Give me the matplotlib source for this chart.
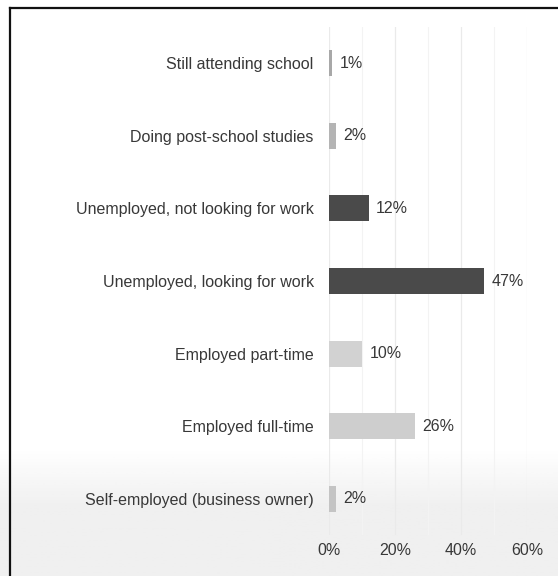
import matplotlib
matplotlib.use("Agg")
import numpy as np
import matplotlib.pyplot as plt
from matplotlib.lines import Line2D
from matplotlib.ticker import MultipleLocator, PercentFormatter

plt.rcParams['font.family'] = ['Liberation Sans', 'DejaVu Sans']

categories = [
    "Still attending school",
    "Doing post-school studies",
    "Unemployed, not looking for work",
    "Unemployed, looking for work",
    "Employed part-time",
    "Employed full-time",
    "Self-employed (business owner)",
]
values = [1, 2, 12, 47, 10, 26, 2]
colors = ["#a8a8a8", "#b4b4b4", "#4a4a4a", "#4a4a4a", "#d2d2d2", "#cecece", "#c4c4c4"]

fig = plt.figure(figsize=(5.58, 5.76), dpi=100)

# soft grey shading towards the bottom of the page
bg = fig.add_axes([0, 0, 1, 1], zorder=-1)
shade = np.linspace(0, 1, 200)
shade = np.clip((shade - 0.78) / 0.1, 0, 1)[:, None] * 0.06
bg.imshow(1 - shade, cmap="gray", vmin=0, vmax=1, aspect="auto",
          extent=[0, 1, 0, 1], origin="upper")
bg.axis("off")

# page border: top and left edges
fig.lines.append(Line2D([10 / 558, 1], [1 - 8 / 576, 1 - 8 / 576],
                        transform=fig.transFigure, color="#111111", lw=1.6))
fig.lines.append(Line2D([10 / 558, 10 / 558], [0, 1 - 8 / 576],
                        transform=fig.transFigure, color="#111111", lw=1.6))

ax = fig.add_axes([329 / 558, 1 - 535 / 576, 198 / 558, 508 / 576])
ax.patch.set_alpha(0)

y = list(range(len(categories)))
ax.barh(y, values, height=0.36, color=colors, zorder=3)

for yi, v in zip(y, values):
    ax.text(v + 2.3, yi, f"{v}%", va="center", ha="left", fontsize=11.5, color="#383838")

ax.set_xlim(0, 60)
ax.set_ylim(len(categories) - 0.5, -0.5)
ax.set_yticks(y)
ax.set_yticklabels(categories, fontsize=11.5, color="#383838")
ax.xaxis.set_major_locator(MultipleLocator(20))
ax.xaxis.set_minor_locator(MultipleLocator(10))
ax.xaxis.set_major_formatter(PercentFormatter(decimals=0))
ax.tick_params(axis="x", labelsize=11.5, labelcolor="#383838", length=0, pad=6, which="both")
ax.tick_params(axis="y", length=0, pad=11)

ax.grid(axis="x", which="major", color="#eaeaea", lw=0.9, zorder=0)
ax.grid(axis="x", which="minor", color="#f3f3f3", lw=0.8, zorder=0)
for s in ax.spines.values():
    s.set_visible(False)

fig.savefig("out.png", dpi=100)
